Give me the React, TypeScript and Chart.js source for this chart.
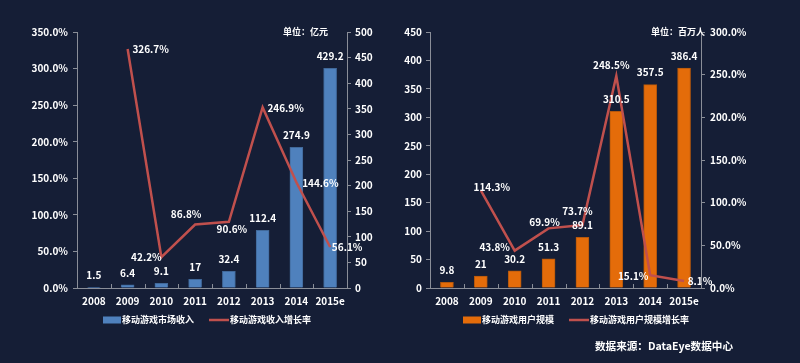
import React, { useEffect, useRef } from 'react';
import { Chart, registerables } from 'chart.js';

Chart.register(...registerables);

// ---------- data ----------
const years = ['2008', '2009', '2010', '2011', '2012', '2013', '2014', '2015e'];
const revenue = [1.5, 6.4, 9.1, 17, 32.4, 112.4, 274.9, 429.2];
const revenueGrowth = [null, 326.7, 42.2, 86.8, 90.6, 246.9, 144.6, 56.1];
const users = [9.8, 21, 30.2, 51.3, 89.1, 310.5, 357.5, 386.4];
const userGrowth = [null, 114.3, 43.8, 69.9, 73.7, 248.5, 15.1, 8.1];

const revenueLabel = '移动游戏市场收入';
const revenueGrowthLabel = '移动游戏收入增长率';
const usersLabel = '移动游戏用户规模';
const userGrowthLabel = '移动游戏用户规模增长率';
const leftUnit = '单位：亿元';
const rightUnit = '单位：百万人';
const sourceText = '数据来源：DataEye数据中心';

// ---------- style ----------
const BG = '#151e36';
const AXIS = '#8a8e98';
const TEXT = '#ffffff';
const BLUE = '#4f81bd';
const BLUE_EDGE = '#41699a';
const ORANGE = '#e46c0a';
const ORANGE_EDGE = '#b4570c';
const RED = '#c0504d';
const FONT = '"Noto Sans CJK SC", "Noto Sans", sans-serif';

const pct = (v: number) => v.toFixed(1) + '%';

function makeLabelPlugin(lineOffsets: number[][], barGap: number) {
  return {
    id: 'valueLabels',
    afterDatasetsDraw(chart: any) {
      const ctx = chart.ctx;
      ctx.save();
      ctx.font = `bold 10px ${FONT}`;
      ctx.fillStyle = TEXT;
      ctx.textAlign = 'center';
      ctx.textBaseline = 'middle';
      chart.data.datasets.forEach((ds: any, di: number) => {
        const meta = chart.getDatasetMeta(di);
        meta.data.forEach((el: any, i: number) => {
          const v = ds.data[i];
          if (v == null) return;
          if (meta.type === 'bar') {
            ctx.fillText(String(v), el.x, el.y - barGap);
          } else {
            const off = lineOffsets[i] || [0, 0];
            ctx.fillText(pct(v), el.x + off[0], el.y + off[1]);
          }
        });
      });
      ctx.restore();
    },
  };
}

function makeXTickPlugin() {
  return {
    id: 'xInnerTicks',
    afterDraw(chart: any) {
      const xs = chart.scales.x;
      const ctx = chart.ctx;
      const n = chart.data.labels.length;
      const bottom = chart.chartArea.bottom;
      ctx.save();
      ctx.strokeStyle = AXIS;
      ctx.lineWidth = 1;
      for (let i = 0; i <= n; i++) {
        const x = Math.round(xs.getPixelForValue(i - 0.5)) + 0.5;
        ctx.beginPath();
        ctx.moveTo(x, bottom);
        ctx.lineTo(x, bottom - 4);
        ctx.stroke();
      }
      ctx.restore();
    },
  };
}

function makeLegendPlugin(startX: number, y: number) {
  return {
    id: 'customLegend',
    afterDraw(chart: any) {
      const ctx = chart.ctx;
      ctx.save();
      ctx.font = `bold 9px ${FONT}`;
      ctx.textAlign = 'left';
      ctx.textBaseline = 'middle';
      let x = startX;
      chart.data.datasets.forEach((ds: any, di: number) => {
        const meta = chart.getDatasetMeta(di);
        if (meta.type === 'bar') {
          ctx.fillStyle = ds.backgroundColor;
          ctx.fillRect(x, y - 3.5, 18, 7);
          x += 19;
        } else {
          ctx.strokeStyle = ds.borderColor;
          ctx.lineWidth = 2.5;
          ctx.beginPath();
          ctx.moveTo(x, y);
          ctx.lineTo(x + 20, y);
          ctx.stroke();
          x += 21;
        }
        ctx.fillStyle = TEXT;
        ctx.fillText(ds.label, x, y);
        x += ctx.measureText(ds.label).width + 15;
      });
      ctx.restore();
    },
  };
}

const tickFont = { family: FONT, size: 10, weight: 'bold' as const };

function yAxis(position: 'left' | 'right', max: number, fmt: (v: number) => string, width: number, pad: number) {
  return {
    type: 'linear' as const,
    position,
    min: 0,
    max,
    ticks: { stepSize: 50, callback: (v: any) => fmt(Number(v)), color: TEXT, font: tickFont, padding: pad },
    grid: { display: true, drawOnChartArea: false, drawTicks: true, tickLength: 4, color: AXIS },
    border: { display: true, color: AXIS, width: 1 },
    afterFit: (s: any) => { s.width = width; },
  };
}

const xAxis = {
  type: 'category' as const,
  offset: true,
  grid: { display: false, drawTicks: false },
  border: { display: true, color: AXIS, width: 1 },
  ticks: { color: TEXT, font: tickFont, padding: 7, maxRotation: 0, autoSkip: false },
  afterFit: (s: any) => { s.height = 75; },
};

function buildLeft(): any {
  return {
    type: 'bar',
    data: {
      labels: years,
      datasets: [
        { type: 'bar', label: revenueLabel, data: revenue, yAxisID: 'yVal', backgroundColor: BLUE, borderColor: BLUE_EDGE, borderWidth: 1, barThickness: 13, order: 1 },
        { type: 'line', label: revenueGrowthLabel, data: revenueGrowth, yAxisID: 'yPct', borderColor: RED, backgroundColor: RED, borderWidth: 2.5, pointRadius: 0, tension: 0, fill: false, order: 0 },
      ],
    },
    options: {
      animation: false,
      responsive: false,
      devicePixelRatio: 1,
      layout: { padding: { top: 32, left: 0, right: 0, bottom: 0 } },
      plugins: { legend: { display: false }, tooltip: { enabled: false } },
      scales: {
        x: xAxis,
        yPct: yAxis('left', 350, pct, 77, 5),
        yVal: yAxis('right', 500, (v) => String(v), 53, 4),
      },
    },
    plugins: [
      makeLabelPlugin([[0, 0], [23, 0], [-15, 0], [-9, -10], [3, 7], [23, 1], [24, 1], [17, 0]], 12),
      makeXTickPlugin(),
      makeLegendPlugin(103, 320),
    ],
  };
}

function buildRight(): any {
  return {
    type: 'bar',
    data: {
      labels: years,
      datasets: [
        { type: 'bar', label: usersLabel, data: users, yAxisID: 'yVal', backgroundColor: ORANGE, borderColor: ORANGE_EDGE, borderWidth: 1, barThickness: 13, order: 1 },
        { type: 'line', label: userGrowthLabel, data: userGrowth, yAxisID: 'yPct', borderColor: RED, backgroundColor: RED, borderWidth: 2.5, pointRadius: 0, tension: 0, fill: false, order: 0 },
      ],
    },
    options: {
      animation: false,
      responsive: false,
      devicePixelRatio: 1,
      layout: { padding: { top: 32, left: 0, right: 0, bottom: 0 } },
      plugins: { legend: { display: false }, tooltip: { enabled: false } },
      scales: {
        x: xAxis,
        yVal: yAxis('left', 450, (v) => String(v), 30, 4),
        yPct: yAxis('right', 300, pct, 99, 5),
      },
    },
    plugins: [
      makeLabelPlugin([[0, 0], [11, -3], [-20, -3], [-4, -6], [-5, -14], [-5, -11], [-17, 1], [16, 0]], 12),
      makeXTickPlugin(),
      makeLegendPlugin(63, 320),
    ],
  };
}

export default function App() {
  const leftRef = useRef<HTMLCanvasElement>(null);
  const rightRef = useRef<HTMLCanvasElement>(null);

  useEffect(() => {
    const c1 = new Chart(leftRef.current as HTMLCanvasElement, buildLeft());
    const c2 = new Chart(rightRef.current as HTMLCanvasElement, buildRight());
    return () => {
      c1.destroy();
      c2.destroy();
    };
  }, []);

  const unitStyle: React.CSSProperties = {
    position: 'absolute',
    top: 26,
    fontFamily: FONT,
    fontSize: 9,
    lineHeight: '12px',
    fontWeight: 'bold',
    color: TEXT,
    whiteSpace: 'nowrap',
  };

  return (
    <div style={{ position: 'fixed', left: 0, top: 0, width: 800, height: 363, background: BG, overflow: 'hidden' }}>
      <canvas ref={leftRef} width={400} height={363} style={{ position: 'absolute', left: 0, top: 0, width: 400, height: 363 }} />
      <canvas ref={rightRef} width={400} height={363} style={{ position: 'absolute', left: 400, top: 0, width: 400, height: 363 }} />
      <div style={{ ...unitStyle, right: 800 - 328 }}>{leftUnit}</div>
      <div style={{ ...unitStyle, right: 800 - 705 }}>{rightUnit}</div>
      <div
        style={{
          position: 'absolute',
          left: 595,
          top: 339,
          fontFamily: FONT,
          fontSize: 10.6,
          lineHeight: '14px',
          fontWeight: 'bold',
          color: TEXT,
          whiteSpace: 'nowrap',
        }}
      >
        {sourceText}
      </div>
    </div>
  );
}
